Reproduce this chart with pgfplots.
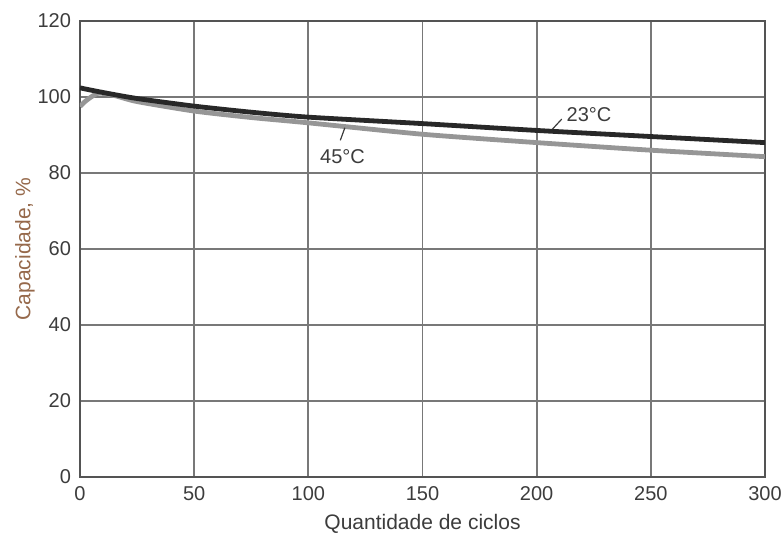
\documentclass[border=0pt]{standalone}
\usepackage{pgfplots}
\pgfplotsset{compat=1.18}
\usepackage{fontspec}
\setmainfont{Liberation Sans}
\definecolor{txt}{RGB}{60,60,60}
\definecolor{ylab}{RGB}{150,105,75}
\definecolor{gridc}{RGB}{120,120,120}
\definecolor{c23}{RGB}{40,40,40}
\definecolor{c45}{RGB}{150,150,150}
\begin{document}
\begin{tikzpicture}
\begin{axis}[
  scale only axis,
  width=342.5pt, height=228pt,
  xmin=0, xmax=300, ymin=0, ymax=120,
  xtick={0,50,...,300}, ytick={0,20,...,120},
  grid=major,
  major grid style={gridc, line width=0.9pt},
  axis line style={gridc!70!black, line width=0.9pt},
  tick style={draw=none},
  /pgf/number format/assume math mode=true,
  ticklabel style={font=\fontsize{10}{12}\selectfont, text=txt},
  xticklabel style={yshift=-1pt},
  yticklabel style={xshift=-1pt},
  xlabel={Quantidade de ciclos},
  ylabel={Capacidade, \%},
  xlabel style={at={(axis description cs:0.5,-0.103)}, anchor=center, font=\fontsize{10.5}{12}\selectfont, text=txt},
  ylabel style={at={(axis description cs:-0.0803,0.5)}, anchor=center, font=\fontsize{10.5}{12}\selectfont, text=ylab},
]
\addplot[c45, line width=2.4pt, smooth, tension=0.4] coordinates {
 (0,97.5) (3,99.2) (8,101) (15,100.4) (25,98.8) (50,96.3) (75,94.6) (100,93.2) (150,90.2) (200,88.0) (250,86.0) (300,84.3)};
\addplot[c23, line width=2.4pt, smooth, tension=0.4] coordinates {
 (0,102.4) (10,101.2) (25,99.6) (50,97.6) (75,96.0) (100,94.7) (150,93.0) (200,91.2) (250,89.6) (300,88.0)};
\draw[txt, line width=0.6pt] (axis cs:207,91.6) -- (axis cs:211,94.2);
\node[anchor=west, text=txt, font=\fontsize{10}{12}\selectfont, inner sep=0pt] at (axis cs:213,95.4) {23°C};
\draw[txt, line width=0.6pt] (axis cs:116,91.9) -- (axis cs:114,88.6);
\node[text=txt, font=\fontsize{10}{12}\selectfont, inner sep=0pt] at (axis cs:115,84.3) {45°C};
\end{axis}
\pgfresetboundingbox
\path[use as bounding box] (-40pt,-30.5pt) rectangle (352pt,238.5pt);
\end{tikzpicture}
\end{document}
